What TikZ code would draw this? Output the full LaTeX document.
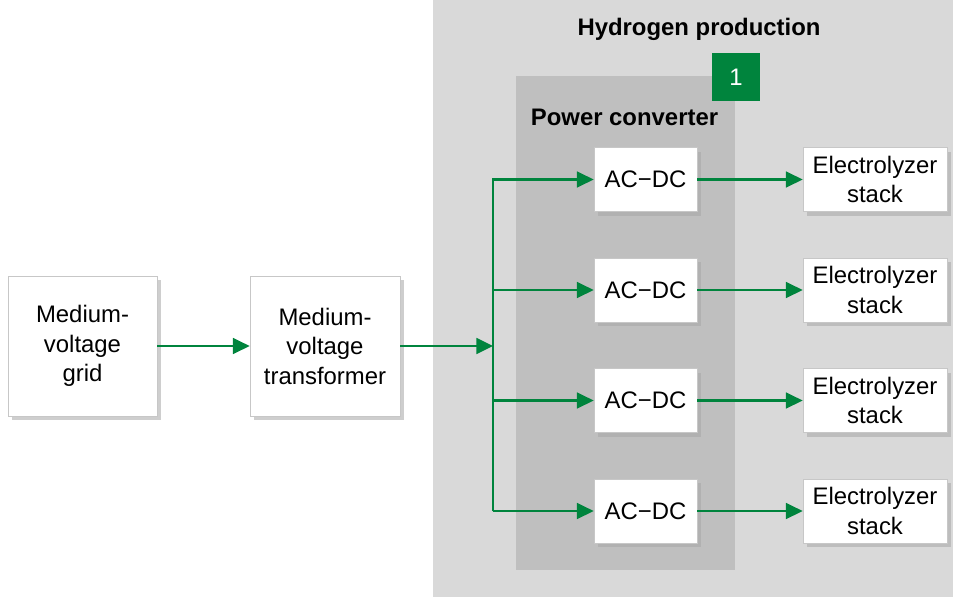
\documentclass[tikz,border=0pt]{standalone}
\usepackage{fontspec}
\setmainfont{Liberation Sans}
\usetikzlibrary{arrows.meta, positioning, shadows}

\definecolor{hgreen}{HTML}{00843D}
\definecolor{panelA}{HTML}{D9D9D9}
\definecolor{panelB}{HTML}{BFBFBF}

\begin{document}
\begin{tikzpicture}[
      block/.style={draw=black!22, rectangle, minimum height=1.28cm, align=center, fill=white, inner sep=2pt, font=\fontsize{13.6}{16.8}\selectfont, drop shadow={shadow xshift=2pt, shadow yshift=-2.5pt, fill=black!35, opacity=0.55}},
      title/.style={font=\fontsize{13.6}{16.8}\selectfont\bfseries},
      line/.style={draw=hgreen, -{Triangle[length=9.5pt, width=9pt]}, line width=1.3pt}
  ]
      \useasboundingbox (0, 0) rectangle (19.06, 11.94);

      % Background panels
      \fill [panelA] (8.66, 0) rectangle (19.06, 11.94);
      \fill [panelB] (10.32, 0.54) rectangle (14.7, 10.42);
      \node [title] (hp) at (13.98, 11.36) {Hydrogen production};
      \node [title] (pc) at (12.49, 9.6) {Power converter};
      \node [fill=hgreen, text=white, minimum size=0.96cm, inner sep=0pt, font=\fontsize{13.6}{16.8}\selectfont] (badge) at (14.72, 10.4) {1};

      % Left: grid and transformer
      \node [block, minimum width=2.98cm, minimum height=2.8cm] (grid) at (1.65, 5.02) {Medium-\\voltage\\grid};
      \node [block, minimum width=3.0cm, minimum height=2.8cm] (trafo) at (6.5, 5.02) {Medium-\\voltage\\transformer};

      % Converters
      \node [block, minimum width=2.06cm] (acdcA) at (12.91, 8.35) {AC−DC};
      \node [block, minimum width=2.06cm] (acdcB) at (12.91, 6.14) {AC−DC};
      \node [block, minimum width=2.06cm] (acdcC) at (12.91, 3.93) {AC−DC};
      \node [block, minimum width=2.06cm] (acdcD) at (12.91, 1.72) {AC−DC};

      % Stacks
      \node [block, minimum width=2.88cm] (stackA) at (17.5, 8.35) {Electrolyzer\\stack};
      \node [block, minimum width=2.88cm] (stackB) at (17.5, 6.14) {Electrolyzer\\stack};
      \node [block, minimum width=2.88cm] (stackC) at (17.5, 3.93) {Electrolyzer\\stack};
      \node [block, minimum width=2.88cm] (stackD) at (17.5, 1.72) {Electrolyzer\\stack};

      % Bus
      \coordinate (busIn) at (9.86, 5.02);
      \coordinate (busEnd) at (9.86, 1.72);

      % Connections
      \path [line] (grid) -- (trafo);
      \path [line] (trafo) -- (busIn);
      \path [line] (busEnd) |- (acdcA.west);
      \path [line] (busEnd) |- (acdcB.west);
      \path [line] (busEnd) |- (acdcC.west);
      \path [line] (busEnd) -- (acdcD.west);

      \path [line] (acdcA) -- (stackA);
      \path [line] (acdcB) -- (stackB);
      \path [line] (acdcC) -- (stackC);
      \path [line] (acdcD) -- (stackD);
  \end{tikzpicture}
\end{document}
